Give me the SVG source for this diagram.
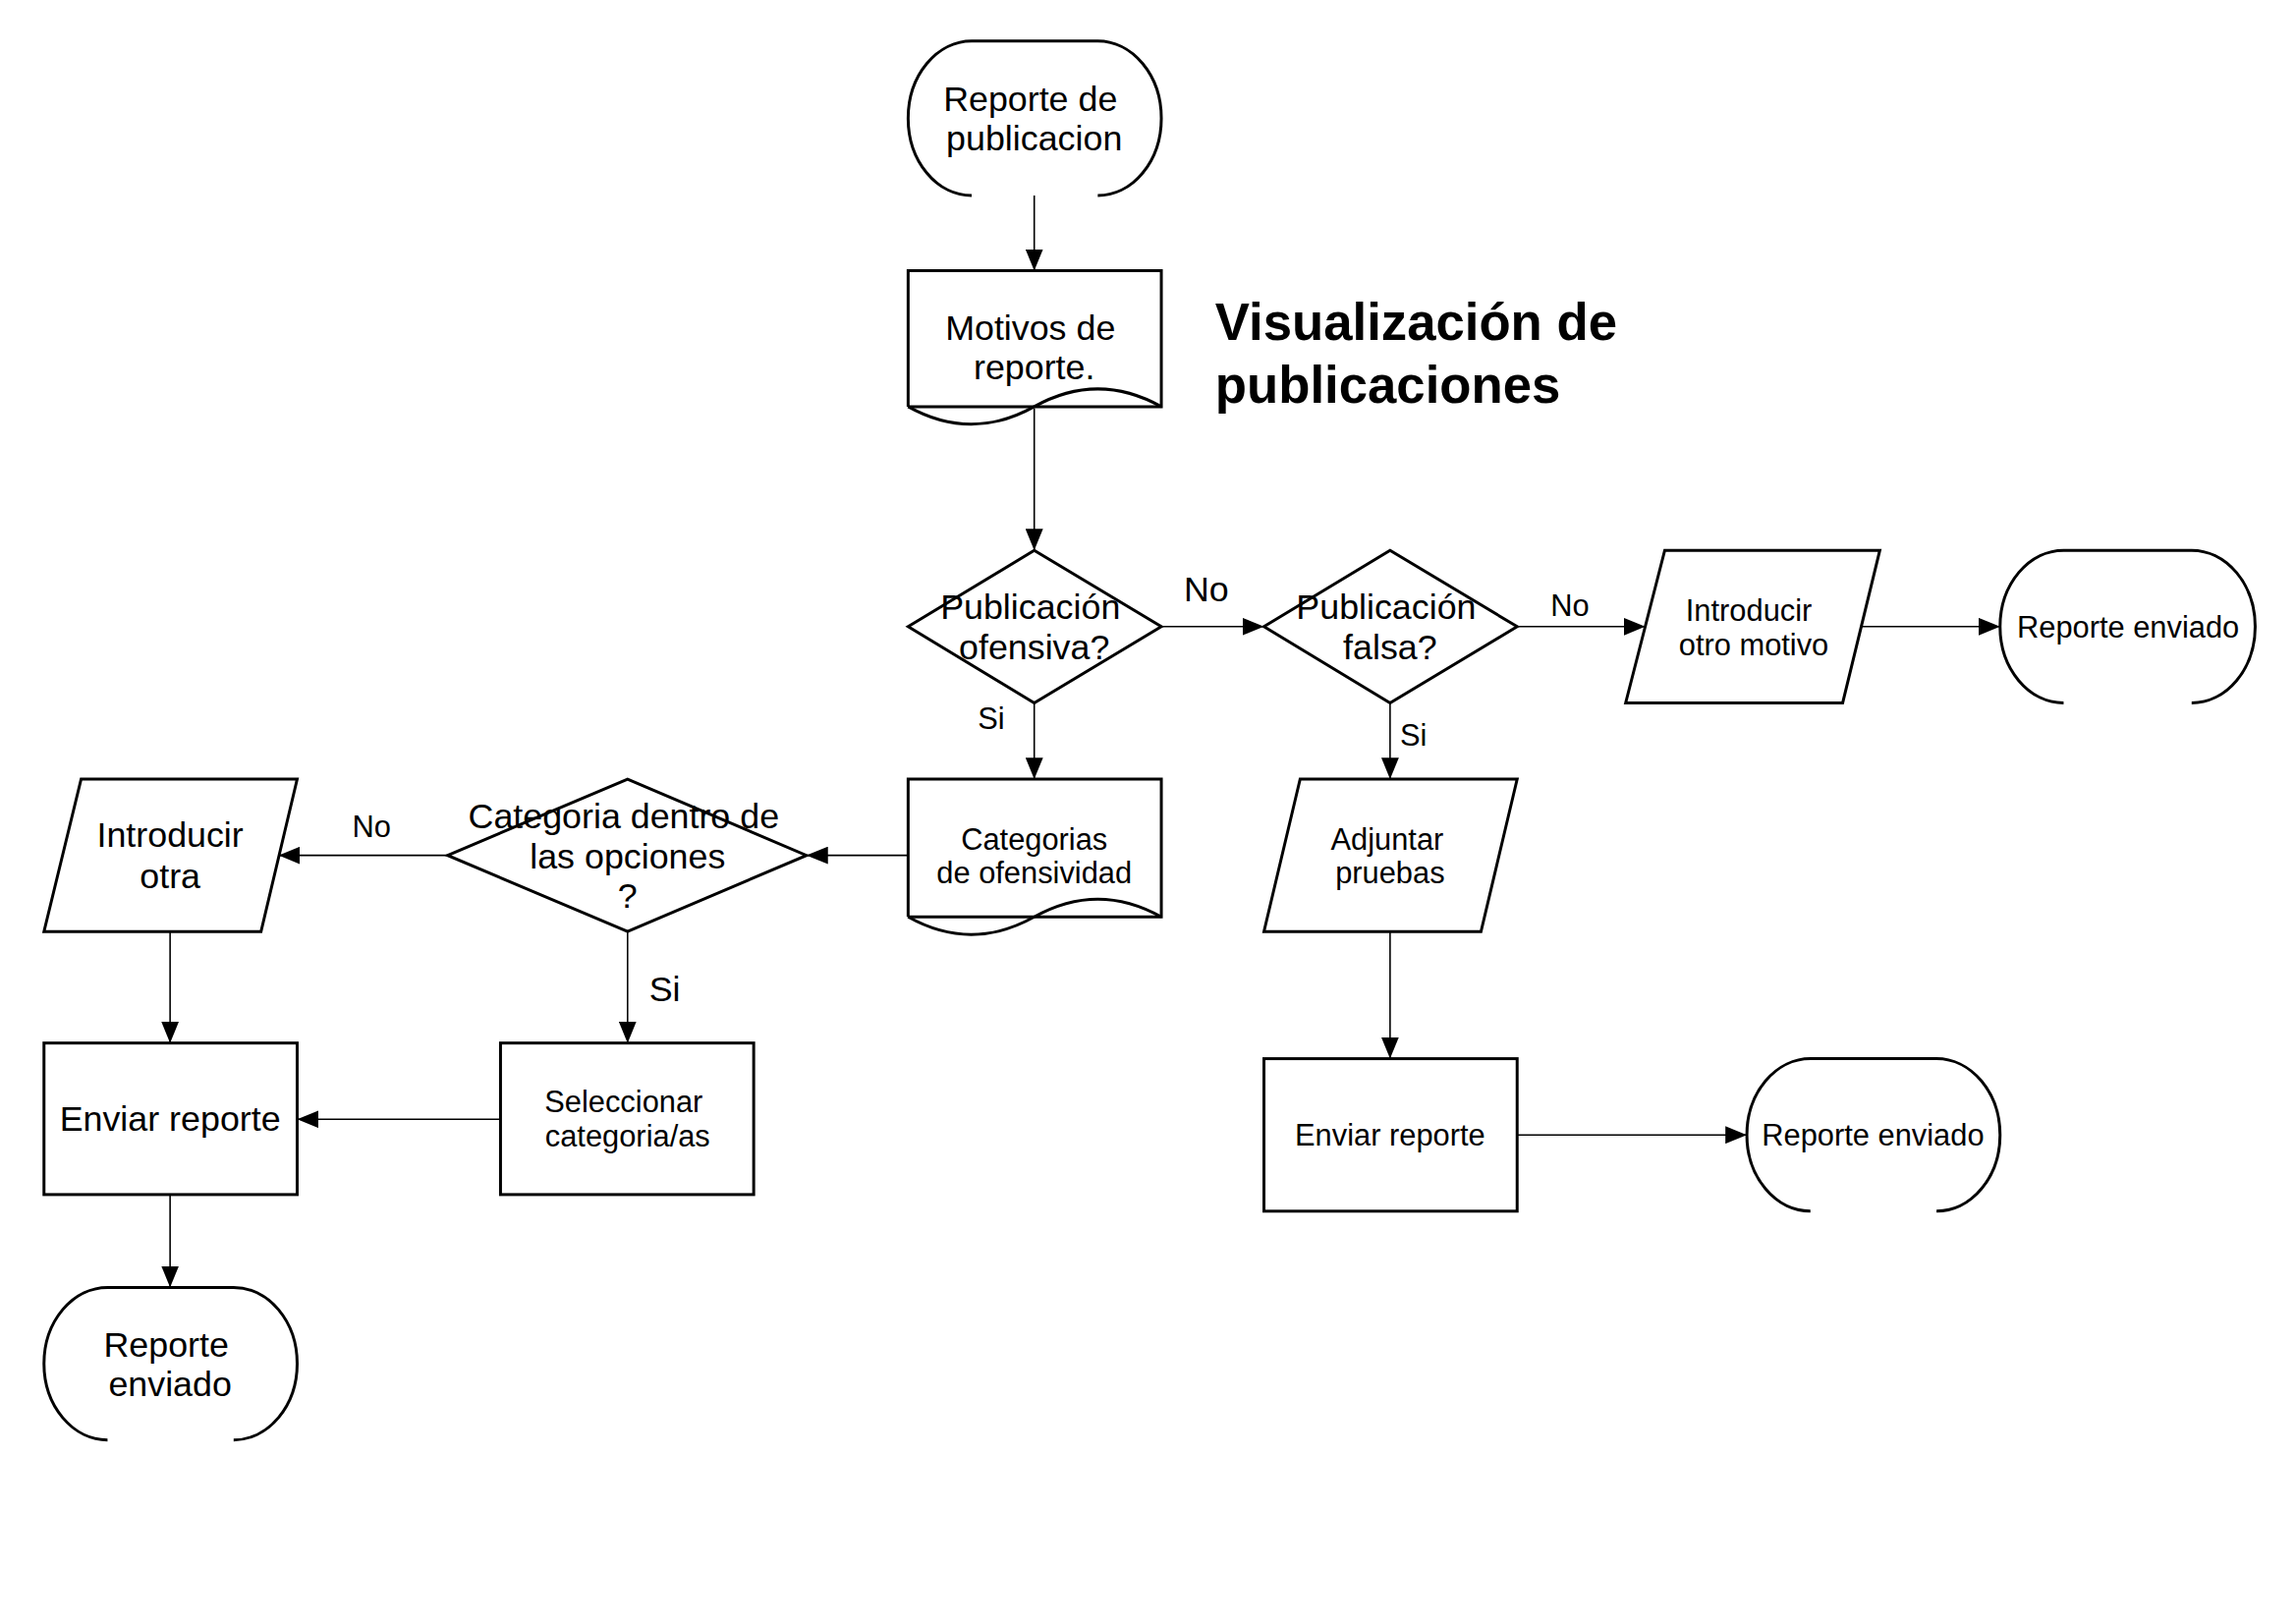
<svg xmlns="http://www.w3.org/2000/svg" width="2337" height="1653" viewBox="0 0 2337 1653">
<style>
.n{fill:#fff;stroke:#000;stroke-width:3}
.o{fill:none;stroke:#000;stroke-width:3}
.t{font-family:"Liberation Sans",Arial,sans-serif;fill:#000;text-anchor:middle}
.s36{font-size:36px}
.s31{font-size:31px}
.c{fill:none;stroke:#000;stroke-width:1.6}
.title{font-family:"Liberation Sans",Arial,sans-serif;font-weight:bold;font-size:53px;fill:#000}
</style>
<defs>
<marker id="ah" markerUnits="userSpaceOnUse" markerWidth="22" markerHeight="18" viewBox="0 0 22 18" refX="22" refY="9" orient="auto">
<path d="M0,0 L22,9 L0,18 z" fill="#000"/>
</marker>
</defs>
<rect width="2337" height="1653" fill="#fff"/>
<g transform="scale(0.995)">
<g id="connectors">
<line class="c" x1="1058" y1="200" x2="1058" y2="277" marker-end="url(#ah)"/>
<line class="c" x1="1058" y1="418" x2="1058" y2="563" marker-end="url(#ah)"/>
<line class="c" x1="1188" y1="641" x2="1293" y2="641" marker-end="url(#ah)"/>
<line class="c" x1="1552" y1="641" x2="1683" y2="641" marker-end="url(#ah)"/>
<line class="c" x1="1904" y1="641" x2="2046" y2="641" marker-end="url(#ah)"/>
<line class="c" x1="1058" y1="719" x2="1058" y2="797" marker-end="url(#ah)"/>
<line class="c" x1="929" y1="875" x2="825" y2="875" marker-end="url(#ah)"/>
<line class="c" x1="458" y1="875" x2="285" y2="875" marker-end="url(#ah)"/>
<line class="c" x1="642" y1="953" x2="642" y2="1067" marker-end="url(#ah)"/>
<line class="c" x1="174" y1="953" x2="174" y2="1067" marker-end="url(#ah)"/>
<line class="c" x1="512" y1="1145" x2="304" y2="1145" marker-end="url(#ah)"/>
<line class="c" x1="174" y1="1222" x2="174" y2="1317" marker-end="url(#ah)"/>
<line class="c" x1="1422" y1="719" x2="1422" y2="797" marker-end="url(#ah)"/>
<line class="c" x1="1422" y1="953" x2="1422" y2="1083" marker-end="url(#ah)"/>
<line class="c" x1="1552" y1="1161" x2="1787" y2="1161" marker-end="url(#ah)"/>
</g>

<g id="labels">
<text class="t s36" x="1234" y="615">No</text>
<text class="t s31" x="1014" y="746">Si</text>
<text class="t s31" x="1606" y="630">No</text>
<text class="t s31" x="1446" y="763">Si</text>
<text class="t s31" x="380" y="856">No</text>
<text class="t s36" x="680" y="1024">Si</text>
</g>

<text class="title" x="1243" y="348">Visualización de</text>
<text class="title" x="1243" y="412">publicaciones</text>

<g id="start">
<path class="o" d="M994,200 A65,79 0 0 1 929,121 A65,79 0 0 1 994,42 L1123,42 A65,79 0 0 1 1188,121 A65,79 0 0 1 1123,200"/>
<text class="t s36" x="1054" y="114">Reporte de</text>
<text class="t s36" x="1058" y="154">publicacion</text>
</g>

<g id="motivos">
<path class="o" d="M929,416 L929,277 L1188,277 L1188,416 L929,416"/>
<path class="o" d="M929,416 C972,440 1015,440 1058,416 C1101,392 1145,392 1188,416"/>
<text class="t s36" x="1054" y="348">Motivos de</text>
<text class="t s36" x="1058" y="388">reporte.</text>
</g>

<g id="ofensiva">
<polygon class="n" points="929,641 1058,563 1188,641 1058,719"/>
<text class="t s36" x="1054" y="633">Publicación</text>
<text class="t s36" x="1058" y="674">ofensiva?</text>
</g>

<g id="falsa">
<polygon class="n" points="1293,641 1422,563 1552,641 1422,719"/>
<text class="t s36" x="1418" y="633">Publicación</text>
<text class="t s36" x="1422" y="674">falsa?</text>
</g>

<g id="otromotivo">
<polygon class="n" points="1703,563 1923,563 1885,719 1663,719"/>
<text class="t s31" x="1789" y="635">Introducir</text>
<text class="t s31" x="1794" y="670">otro motivo</text>
</g>

<g id="enviado1">
<path class="o" d="M2111,719 A65,78 0 0 1 2046,641 A65,78 0 0 1 2111,563 L2242,563 A65,78 0 0 1 2307,641 A65,78 0 0 1 2242,719"/>
<text class="t s31" x="2177" y="652">Reporte enviado</text>
</g>

<g id="categorias">
<path class="o" d="M929,938 L929,797 L1188,797 L1188,938 L929,938"/>
<path class="o" d="M929,938 C972,962 1015,962 1058,938 C1101,914 1145,914 1188,938"/>
<text class="t s31" x="1058" y="869">Categorias</text>
<text class="t s31" x="1058" y="904">de ofensividad</text>
</g>

<g id="adjuntar">
<polygon class="n" points="1330,797 1552,797 1515,953 1293,953"/>
<text class="t s31" x="1419" y="869">Adjuntar</text>
<text class="t s31" x="1422" y="904">pruebas</text>
</g>

<g id="enviar2">
<rect class="n" x="1293" y="1083" width="259" height="156"/>
<text class="t s31" x="1422" y="1172">Enviar reporte</text>
</g>

<g id="enviado2">
<path class="o" d="M1852,1239 A65,78 0 0 1 1787,1161 A65,78 0 0 1 1852,1083 L1981,1083 A65,78 0 0 1 2046,1161 A65,78 0 0 1 1981,1239"/>
<text class="t s31" x="1916" y="1172">Reporte enviado</text>
</g>

<g id="categoriadentro">
<polygon class="n" points="458,875 642,797 825,875 642,953"/>
<text class="t s36" x="638" y="847">Categoria dentro de</text>
<text class="t s36" x="642" y="888">las opciones</text>
<text class="t s36" x="642" y="929">?</text>
</g>

<g id="introducirotra">
<polygon class="n" points="83,797 304,797 267,953 45,953"/>
<text class="t s36" x="174" y="866">Introducir</text>
<text class="t s36" x="174" y="909">otra</text>
</g>

<g id="enviar1">
<rect class="n" x="45" y="1067" width="259" height="155"/>
<text class="t s36" x="174" y="1157">Enviar reporte</text>
</g>

<g id="seleccionar">
<rect class="n" x="512" y="1067" width="259" height="155"/>
<text class="t s31" x="638" y="1138">Seleccionar</text>
<text class="t s31" x="642" y="1173">categoria/as</text>
</g>

<g id="enviado3">
<path class="o" d="M110,1473 A65,78 0 0 1 45,1395 A65,78 0 0 1 110,1317 L239,1317 A65,78 0 0 1 304,1395 A65,78 0 0 1 239,1473"/>
<text class="t s36" x="170" y="1388">Reporte</text>
<text class="t s36" x="174" y="1428">enviado</text>
</g>
</g>
</svg>
